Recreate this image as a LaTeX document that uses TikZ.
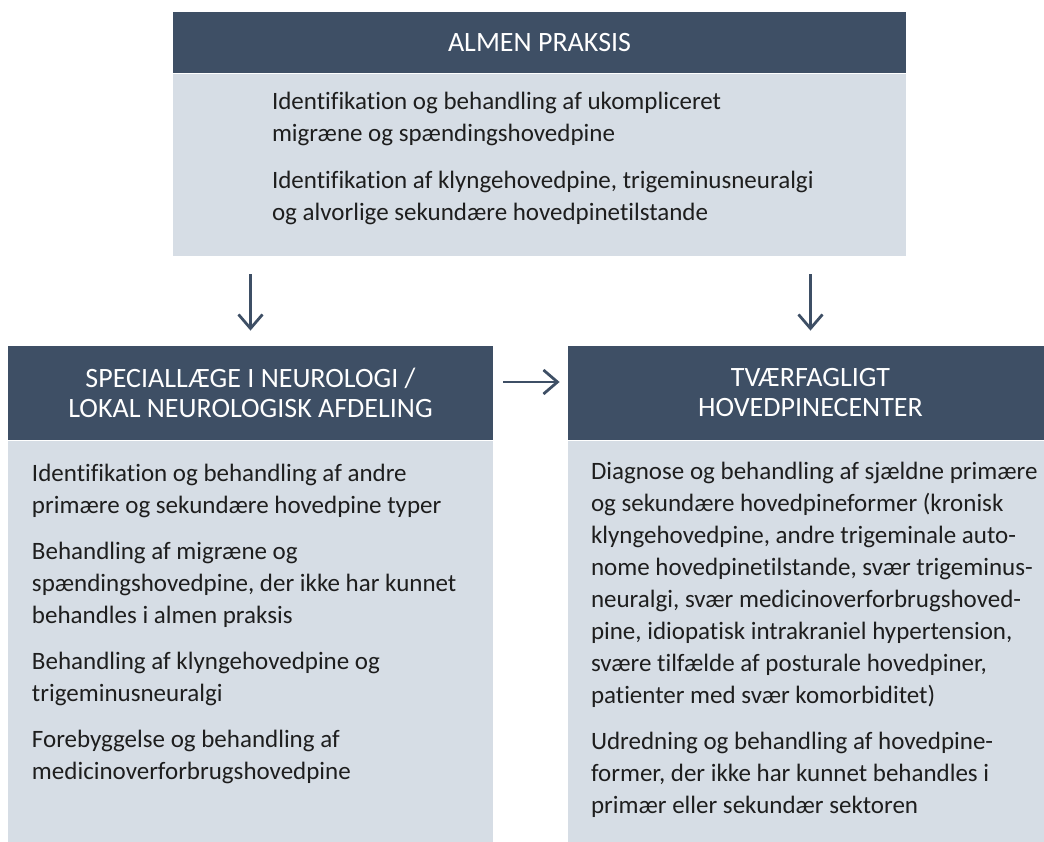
\documentclass[tikz,border=0pt]{standalone}
\usepackage{fontspec}
\setmainfont{Carlito}[Ligatures=CommonOff]
\usetikzlibrary{arrows.meta,positioning}
\definecolor{headblue}{HTML}{3E4F65}
\definecolor{paleblue}{HTML}{D6DDE5}
\definecolor{inktext}{HTML}{1E1E1E}

\begin{document}
\begin{tikzpicture}[
  x=0.5pt, y=-0.5pt,
  head/.style={rectangle, fill=headblue, text=white, align=center, inner sep=0pt, font=\fontsize{14}{15}\selectfont},
  panel/.style={rectangle, fill=paleblue, inner sep=0pt},
  body/.style={align=left, inner sep=0pt, text=inktext, font=\fontsize{12.5}{16}\selectfont},
  arrow/.style={-{Straight Barb[length=7pt,width=12pt]}, line width=1.4pt, draw=headblue}
]
\useasboundingbox (0,0) rectangle (1044,841);
% top box
\node[head, minimum width=366.5pt, minimum height=30.5pt] (almen) at (539.5,42.5) {ALMEN PRAKSIS};
\node[panel, minimum width=366.5pt, minimum height=91pt, below=0pt of almen] (almenpanel) {};
\node[body, below right=9pt and 49.5pt of almenpanel.north west] (almentext)
  {Identifikation og behandling af ukompliceret\\migræne og spændingshovedpine\\[7.5pt]
   Identifikation af klyngehovedpine, trigeminusneuralgi\\og alvorlige sekundære hovedpinetilstande};
% left box
\node[head, minimum width=242.5pt, minimum height=47pt] (special) at (250.5,393) {SPECIALLÆGE I NEUROLOGI /\\LOKAL NEUROLOGISK AFDELING};
\node[panel, minimum width=242.5pt, minimum height=200.5pt, below=0pt of special] (specialpanel) {};
\node[body, below right=11.5pt and 12pt of specialpanel.north west] (specialtext)
  {Identifikation og behandling af andre\\primære og sekundære hovedpine typer\\[7pt]
   Behandling af migræne og\\spændingshovedpine, der ikke har kunnet\\behandles i almen praksis\\[7pt]
   Behandling af klyngehovedpine og\\trigeminusneuralgi\\[7pt]
   Forebyggelse og behandling af\\medicinoverforbrugshovedpine};
% right box
\node[head, minimum width=242.5pt, minimum height=47pt] (center) at (810.5,393) {TVÆRFAGLIGT\\HOVEDPINECENTER};
\node[panel, minimum width=242.5pt, minimum height=200.5pt, below=0pt of center] (centerpanel) {};
\node[body, below right=10.5pt and 11.5pt of centerpanel.north west] (centertext)
  {Diagnose og behandling af sjældne primære\\og sekundære hovedpineformer (kronisk\\klyngehovedpine, andre trigeminale auto-\\nome hovedpinetilstande, svær trigeminus-\\neuralgi, svær medicinoverforbrugshoved-\\pine, idiopatisk intrakraniel hypertension,\\svære tilfælde af posturale hovedpiner,\\patienter med svær komorbiditet)\\[7pt]
   Udredning og behandling af hovedpine-\\former, der ikke har kunnet behandles i\\primær eller sekundær sektoren};
% arrows
\draw[arrow, shorten <=9pt, shorten >=7.5pt] (almenpanel.south -| special.north) -- (special.north);
\draw[arrow, shorten <=9pt, shorten >=7.5pt] (almenpanel.south -| center.north) -- (center.north);
\draw[arrow, shorten <=5pt, shorten >=4pt] ([yshift=5.5pt]special.east) -- ([yshift=5.5pt]center.west);
\end{tikzpicture}
\end{document}
